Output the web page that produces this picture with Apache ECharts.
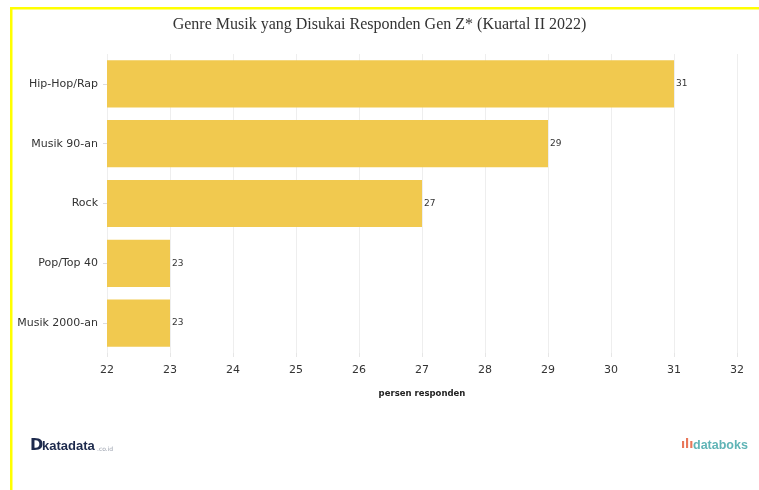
<!DOCTYPE html>
<html><head><meta charset="utf-8">
<script src="https://cdn.jsdelivr.net/npm/echarts@6/dist/echarts.min.js"></script>
<style>html,body{margin:0;padding:0;background:#fff}#c{width:759px;height:490px}</style>
</head><body><div id="c"></div>
<script>
const categories = ['Hip-Hop/Rap','Musik 90-an','Rock','Pop/Top 40','Musik 2000-an'];
const values = [31, 29, 27, 23, 23];
const xTicks = [22, 32, 1];
const chart = echarts.init(document.getElementById('c'), null, {renderer:'canvas'});
chart.setOption({
  animation:false,
  backgroundColor:'#fff',
  title:{text:'Genre Musik yang Disukai Responden Gen Z* (Kuartal II 2022)', left:'center', top:12,
    textStyle:{fontFamily:'Liberation Serif', fontSize:16, fontWeight:'normal', color:'#333'}},
  grid:{left:107, right:22, top:54, bottom:137, containLabel:false},
  xAxis:{type:'value', min:xTicks[0], max:xTicks[1], interval:xTicks[2],
    name:'persen responden', nameLocation:'middle', nameGap:36,
    nameTextStyle:{fontFamily:'DejaVu Sans', fontSize:8.5, fontWeight:'bold', color:'#222'},
    axisLine:{show:false}, axisTick:{show:true, length:4, lineStyle:{color:'#e6e6e6'}},
    axisLabel:{fontFamily:'DejaVu Sans', fontSize:11, color:'#333', margin:12},
    splitLine:{show:true, lineStyle:{color:'#eeeeee', width:1}}},
  yAxis:{type:'category', data:categories, inverse:true,
    axisLine:{show:false}, axisTick:{show:true, length:4, alignWithLabel:true, lineStyle:{color:'#dddddd'}},
    axisLabel:{fontFamily:'DejaVu Sans', fontSize:11, color:'#333', margin:9}},
  series:[{type:'bar', data:values, barCategoryGap:'21%',
    itemStyle:{color:'#f1c94f'},
    label:{show:true, position:'right', distance:2, fontFamily:'DejaVu Sans', fontSize:9, color:'#333'}}],
  graphic:[
    {type:'rect', shape:{x:10, y:7, width:749, height:2.5}, style:{fill:'#ffff00'}},
    {type:'rect', shape:{x:10, y:7, width:2.5, height:483}, style:{fill:'#ffff00'}},
    {type:'text', left:30, top:438, style:{text:'D', font:'bold 16px "DejaVu Sans"', fill:'#1d2a4d'}},
    {type:'text', left:42, top:440, style:{text:'katadata', font:'bold 13px "Liberation Sans"', fill:'#1d2a4d'}},
    {type:'text', left:97, top:446, style:{text:'.co.id', font:'6px "DejaVu Sans"', fill:'#9aa0ad'}},
    {type:'text', left:681, top:439, style:{text:'ılı', font:'bold 12px "DejaVu Sans"', fill:'#e9775a'}},
    {type:'text', left:693, top:439, style:{text:'databoks', font:'bold 12.5px "Liberation Sans"', fill:'#5fb4b6'}}
  ]
});
</script></body></html>
